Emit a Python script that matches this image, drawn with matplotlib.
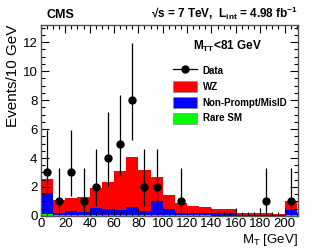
import matplotlib
matplotlib.use("Agg")
import matplotlib.pyplot as plt
from matplotlib.ticker import MultipleLocator
from matplotlib.lines import Line2D
from matplotlib.patches import Patch

plt.rcParams['font.family'] = ['Liberation Sans', 'DejaVu Sans']

bin_edges = [0, 10, 20, 30, 40, 50, 60, 70, 80, 90, 100, 110, 120, 130, 140, 150, 160, 170, 180, 190, 200, 210]
rare_sm = [0.15, 0.05, 0.05, 0.05, 0.05, 0.05, 0.05, 0.05, 0.05, 0.05, 0.04, 0.03, 0.03, 0.03, 0.02, 0.02, 0.02, 0.02, 0.02, 0.01, 0.05]
nonprompt = [1.45, 0.15, 0.30, 0.25, 0.50, 0.40, 0.35, 0.55, 0.30, 1.00, 0.46, 0.19, 0.17, 0.17, 0.16, 0.16, 0.03, 0.03, 0.03, 0.03, 0.35]
wz = [0.95, 0.90, 0.90, 1.00, 1.40, 1.90, 2.70, 3.45, 2.85, 1.65, 0.95, 0.65, 0.50, 0.40, 0.32, 0.27, 0.15, 0.15, 0.12, 0.08, 0.60]

data_x = [5, 15, 25, 35, 45, 55, 65, 75, 85, 95, 115, 185, 205]
data_y = [3, 1, 3, 1, 2, 4, 5, 8, 2, 2, 1, 1, 1]
data_lo = [1.37, 0.17, 1.37, 0.17, 0.71, 2.09, 2.84, 5.24, 0.71, 0.71, 0.17, 0.17, 0.17]
data_hi = [5.92, 3.30, 5.92, 3.30, 4.64, 7.16, 8.38, 11.98, 4.64, 4.64, 3.30, 3.30, 3.30]

fig = plt.figure(figsize=(3.15, 2.49), dpi=100)
ax = fig.add_axes([0.130, 0.133, 0.816, 0.767])

lefts = bin_edges[:-1]
widths = [b - a for a, b in zip(bin_edges[:-1], bin_edges[1:])]
bottom1 = rare_sm
bottom2 = [a + b for a, b in zip(rare_sm, nonprompt)]
ax.bar(lefts, rare_sm, width=widths, align='edge', color='#00ff00', linewidth=0)
ax.bar(lefts, nonprompt, width=widths, bottom=bottom1, align='edge', color='#0000ff', linewidth=0)
ax.bar(lefts, wz, width=widths, bottom=bottom2, align='edge', color='#ff0000', linewidth=0)

yerr = [[y - l for y, l in zip(data_y, data_lo)], [h - y for y, h in zip(data_y, data_hi)]]
ax.errorbar(data_x, data_y, yerr=yerr, fmt='o', color='black', ms=5, elinewidth=0.9, capsize=0)

ax.set_xlim(0, 211)
ax.set_ylim(0, 13.2)
ax.xaxis.set_major_locator(MultipleLocator(20))
ax.xaxis.set_minor_locator(MultipleLocator(5))
ax.yaxis.set_major_locator(MultipleLocator(2))
ax.yaxis.set_minor_locator(MultipleLocator(0.5))
ax.tick_params(which='both', direction='in', top=True, right=True, labelsize=9.5, width=0.8)
ax.tick_params(axis='x', pad=1.5)
ax.tick_params(axis='y', pad=2.5)
ax.tick_params(which='major', length=6)
ax.tick_params(which='minor', length=3)
for s in ax.spines.values():
    s.set_linewidth(1.0)
    s.set_color('#555555')

ax.set_xlabel(r'M$_{\mathregular{T}}$ [GeV]', fontsize=9.5, ha='right')
ax.xaxis.set_label_coords(1.0, -0.082)
ax.set_ylabel('Events/10 GeV', fontsize=11, loc='top', labelpad=2)

fig.text(0.148, 0.927, 'CMS', fontsize=9, fontweight='bold')
fig.text(0.945, 0.927, '\u221as = 7 TeV,  L$_{\\mathregular{int}}$ = 4.98 fb$^{\\mathregular{-1}}$',
         fontsize=8.5, fontweight='bold', ha='right')
ax.text(0.86, 0.87, r'M$_{\mathregular{TT}}$<81 GeV', transform=ax.transAxes, fontsize=8.5,
        fontweight='bold', ha='right')

handles = [Line2D([], [], color='black', marker='o', ms=5, lw=0.9),
           Patch(facecolor='#ff0000', edgecolor='#888888', linewidth=0.5),
           Patch(facecolor='#0000ff', edgecolor='#888888', linewidth=0.5),
           Patch(facecolor='#00ff00', edgecolor='#888888', linewidth=0.5)]
labels = ['Data', 'WZ', 'Non-Prompt/MisID', 'Rare SM']
leg = ax.legend(handles, labels, loc='upper left', bbox_to_anchor=(0.5, 0.81), frameon=False,
                prop={'size': 7, 'weight': 'bold'}, handlelength=2.4, handleheight=1.3,
                labelspacing=0.55, borderaxespad=0, handletextpad=0.6)

fig.savefig('out.png', dpi=100)
